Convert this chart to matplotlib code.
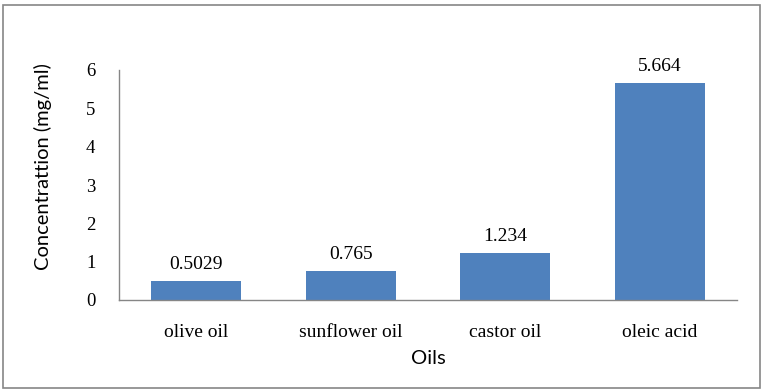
import matplotlib.pyplot as plt
from matplotlib.patches import Rectangle

# Dados do grafico
oleos = ['olive oil', 'sunflower oil', 'castor oil', 'oleic acid']
concentracao = [0.5029, 0.765, 1.234, 5.664]
rotulos = ['0.5029', '0.765', '1.234', '5.664']
yticks = [0, 1, 2, 3, 4, 5, 6]

W, H = 765, 391
fig = plt.figure(figsize=(W / 100, H / 100), dpi=100)

# area do grafico (em pixels da imagem)
esq, dir, topo, base = 119, 737, 70, 300
ax = fig.add_axes([esq / W, 1 - base / H, (dir - esq) / W, (base - topo) / H])

x = range(len(oleos))
ax.bar(x, concentracao, width=0.58, color='#4F81BD', zorder=2)

for xi, v, t in zip(x, concentracao, rotulos):
    ax.text(xi, v + 0.2, t, ha='center', va='bottom', fontsize=14,
            family='Liberation Serif')

ax.set_xlim(-0.5, len(oleos) - 0.5)
ax.set_ylim(0, 6)
ax.set_yticks(yticks)
ax.set_xticks(list(x))
ax.set_xticklabels(oleos, family='Liberation Serif', fontsize=14)
ax.set_yticklabels([str(v) for v in yticks], family='Liberation Serif', fontsize=13.5)
ax.tick_params(axis='both', length=0)
ax.tick_params(axis='y', pad=17)
ax.tick_params(axis='x', pad=17)

for lado in ['top', 'right']:
    ax.spines[lado].set_visible(False)
for lado in ['left', 'bottom']:
    ax.spines[lado].set_color('#868686')
    ax.spines[lado].set_linewidth(1)

ax.set_xlabel('Oils', family='Lato', fontsize=14.5, labelpad=7)
ax.set_ylabel('Concentrattion (mg/ml)', family='Lato', fontsize=14.5)
ax.yaxis.set_label_coords(-(119 - 52) / (737 - 119), (300 - 167) / 230)

# borda da figura
fig.patches.append(Rectangle((3 / W, 3 / H), (W - 8) / W, (H - 8) / H,
                             transform=fig.transFigure, fill=False,
                             edgecolor='#868686', linewidth=1.2))

fig.savefig('out.png', dpi=100)
